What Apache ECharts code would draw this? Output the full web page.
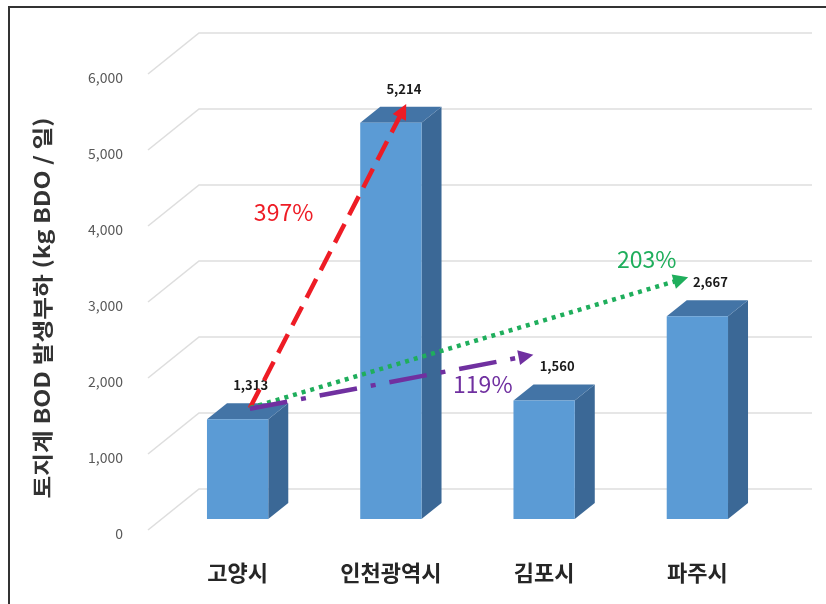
<!DOCTYPE html>
<html>
<head>
<meta charset="utf-8">
<script src="https://cdn.jsdelivr.net/npm/echarts@6/dist/echarts.min.js"></script>
<style>
  html, body { margin: 0; padding: 0; background: #ffffff; }
  #chart { width: 826px; height: 604px; }
</style>
</head>
<body>
<div id="chart"></div>
<script>
// Land-use BOD load by city (kg BOD / day)
const cities = ['고양시', '인천광역시', '김포시', '파주시'];
const bodLoad = [1313, 5214, 1560, 2667];
const yTicks = [0, 1000, 2000, 3000, 4000, 5000, 6000];

// Growth annotations relative to 고양시, placed in [category index, value] space
const growthLabels = ['397%', '203%', '119%'];
const growthColors = ['#ee1c25', '#1fae5c', '#7030a0'];
const arrowFrom = [[0.08, 1460], [0.08, 1460], [0.08, 1450]];
const arrowTo = [[1.10, 5460], [2.94, 3180], [1.93, 2160]];
const labelAt = [[0.30, 4030], [2.67, 3420], [1.60, 1775]];

const FONT = "'Noto Sans CJK KR', 'Noto Sans', sans-serif";
const DEPTH_X = 20, DEPTH_Y = 16;      // bar extrusion
const FLOOR_FRONT = [-13, 11];         // front edge of the floor relative to the bar plane
const WALL_BACK = [38, -30];           // back wall relative to the bar plane

const chart = echarts.init(document.getElementById('chart'));

// pixel position of a [category index, value] pair, allowing fractional indices
function toPixel(api, pt) {
  const i0 = Math.floor(pt[0]);
  const p = api.coord([i0, pt[1]]);
  const band = api.size([1, 0])[0];
  return [p[0] + (pt[0] - i0) * band, p[1]];
}

// floor diagonal + back-wall gridline, with its tick label at the front edge
function renderWall(params, api) {
  const v = api.value(1);
  const y = api.coord([0, v])[1];
  const cs = params.coordSys;
  return {
    type: 'group',
    children: [
      {
        type: 'polyline',
        shape: {
          points: [
            [cs.x + FLOOR_FRONT[0], y + FLOOR_FRONT[1]],
            [cs.x + WALL_BACK[0], y + WALL_BACK[1]],
            [cs.x + cs.width + WALL_BACK[0], y + WALL_BACK[1]]
          ]
        },
        style: { fill: null, stroke: '#dedede', lineWidth: 1.6 },
        silent: true
      },
      {
        type: 'text',
        style: {
          text: echarts.format.addCommas(v),
          x: cs.x - 38, y: y + 15,
          align: 'right', verticalAlign: 'middle',
          font: '14px ' + FONT, fill: '#595959'
        }
      }
    ]
  };
}

function renderBar(params, api) {
  const idx = api.value(0), v = api.value(1);
  const base = api.coord([idx, 0]);
  const top = api.coord([idx, v]);
  const w = api.size([1, 0])[0] * 0.4;
  const x0 = base[0] - w / 2, x1 = base[0] + w / 2;
  const yb = base[1], yt = top[1];
  return {
    type: 'group',
    children: [
      {
        type: 'polygon',
        shape: { points: [[x1, yt], [x1 + DEPTH_X, yt - DEPTH_Y], [x1 + DEPTH_X, yb - DEPTH_Y], [x1, yb]] },
        style: { fill: '#3b6896' }
      },
      {
        type: 'polygon',
        shape: { points: [[x0, yt], [x0 + DEPTH_X, yt - DEPTH_Y], [x1 + DEPTH_X, yt - DEPTH_Y], [x1, yt]] },
        style: { fill: '#4374a6' }
      },
      {
        type: 'rect',
        shape: { x: x0, y: yt, width: w, height: yb - yt },
        style: { fill: '#5b9bd5' }
      },
      {
        type: 'text',
        style: {
          text: echarts.format.addCommas(v),
          x: base[0] + 13, y: yt - 34,
          align: 'center', verticalAlign: 'middle',
          font: 'bold 13px ' + FONT, fill: '#1a1a1a'
        }
      }
    ]
  };
}

function renderArrow(params, api) {
  const i = params.dataIndex;
  const a = toPixel(api, arrowFrom[i]);
  const b = toPixel(api, arrowTo[i]);
  const lab = toPixel(api, labelAt[i]);
  const color = growthColors[i];
  const dx = b[0] - a[0], dy = b[1] - a[1];
  const len = Math.sqrt(dx * dx + dy * dy);
  const ux = dx / len, uy = dy / len;
  const headLen = 15, headHalf = 7.5;
  const hx = b[0] - ux * headLen, hy = b[1] - uy * headLen;
  const dashes = [[21, 10], [4, 5], [38, 14, 5, 14]];
  return {
    type: 'group',
    children: [
      {
        type: 'line',
        shape: { x1: a[0], y1: a[1], x2: hx + ux * 2, y2: hy + uy * 2 },
        style: { stroke: color, lineWidth: 4.5, lineDash: dashes[i], lineCap: 'butt' }
      },
      {
        type: 'polygon',
        shape: {
          points: [
            [b[0], b[1]],
            [hx - uy * headHalf, hy + ux * headHalf],
            [hx + uy * headHalf, hy - ux * headHalf]
          ]
        },
        style: { fill: color }
      },
      {
        type: 'text',
        style: {
          text: growthLabels[i], x: lab[0], y: lab[1],
          align: 'center', verticalAlign: 'middle',
          font: '23px ' + FONT, fill: color
        }
      }
    ]
  };
}

chart.setOption({
  animation: false,
  backgroundColor: '#ffffff',
  grid: { left: 161, right: 52, top: 63, bottom: 85 },
  xAxis: {
    type: 'category',
    data: cities,
    axisLine: { show: false },
    axisTick: { show: false },
    axisLabel: { margin: 43, fontSize: 22, fontWeight: 'bold', color: '#262626', fontFamily: FONT }
  },
  yAxis: {
    type: 'value',
    min: 0, max: 6000, interval: 1000,
    axisLine: { show: false },
    axisTick: { show: false },
    splitLine: { show: false },
    axisLabel: { show: false }
  },
  graphic: [
    {
      type: 'rect',
      shape: { x: 9, y: 7, width: 840, height: 620 },
      style: { fill: null, stroke: '#333333', lineWidth: 2 },
      silent: true
    },
    {
      type: 'text',
      x: 42, y: 308,
      rotation: Math.PI / 2,
      scaleX: 1.18,
      style: {
        text: '토지계 BOD 발생부하 (kg BDO / 일)',
        align: 'center', verticalAlign: 'middle',
        font: 'bold 21px ' + FONT, fill: '#333333'
      }
    }
  ],
  series: [
    {
      type: 'custom',
      name: 'wall',
      renderItem: renderWall,
      data: yTicks.map(v => [0, v]),
      clip: false,
      silent: true,
      z: 1
    },
    {
      type: 'custom',
      name: 'BOD',
      renderItem: renderBar,
      data: bodLoad.map((v, i) => [i, v]),
      clip: false,
      z: 2
    },
    {
      type: 'custom',
      name: 'growth',
      renderItem: renderArrow,
      data: growthLabels.map((l, i) => [0, 0]),
      clip: false,
      z: 3
    }
  ]
});
</script>
</body>
</html>
